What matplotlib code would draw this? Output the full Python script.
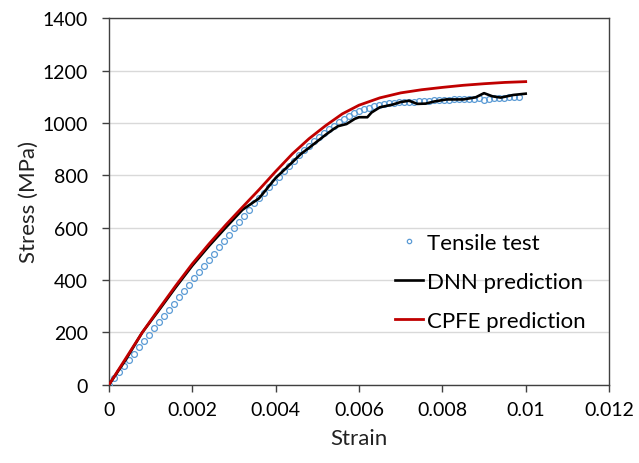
import matplotlib
matplotlib.use("Agg")
import matplotlib.pyplot as plt

plt.rcParams['font.family'] = ['Lato', 'DejaVu Sans']

# Tensile test (measured), strain step 0.00012
test_strain = [
    0.0, 0.00012, 0.00024, 0.00036, 0.00048, 0.0006, 0.00072, 0.00084, 0.00096, 0.00108,
    0.0012, 0.00132, 0.00144, 0.00156, 0.00168, 0.0018, 0.00192, 0.00204, 0.00216, 0.00228,
    0.0024, 0.00252, 0.00264, 0.00276, 0.00288, 0.003, 0.00312, 0.00324, 0.00336, 0.00348,
    0.0036, 0.00372, 0.00384, 0.00396, 0.00408, 0.0042, 0.00432, 0.00444, 0.00456, 0.00468,
    0.0048, 0.00492, 0.00504, 0.00516, 0.00528, 0.0054, 0.00552, 0.00564, 0.00576, 0.00588,
    0.006, 0.00612, 0.00624, 0.00636, 0.00648, 0.0066, 0.00672, 0.00684, 0.00696, 0.00708,
    0.0072, 0.00732, 0.00744, 0.00756, 0.00768, 0.0078, 0.00792, 0.00804, 0.00816, 0.00828,
    0.0084, 0.00852, 0.00864, 0.00876, 0.00888, 0.009, 0.00912, 0.00924, 0.00936, 0.00948,
    0.0096, 0.00972, 0.00984,
]
test_stress = [
    0, 24, 48, 72, 96, 119, 143, 167, 191, 215,
    239, 263, 287, 310, 334, 358, 382, 406, 430, 454,
    478, 501, 525, 549, 573, 597, 621, 645, 669, 693,
    713, 734, 754, 774, 795, 815, 836, 856, 876, 895,
    913, 930, 946, 961, 976, 990, 1004, 1016, 1027, 1037,
    1046, 1053, 1059, 1064, 1069, 1073, 1076, 1078, 1080, 1081,
    1082, 1082, 1083, 1084, 1085, 1086, 1087, 1088, 1089, 1090,
    1091, 1091, 1092, 1093, 1094, 1088, 1092, 1096, 1094, 1097,
    1098, 1099, 1100,
]

# DNN prediction
dnn_strain = [
    0.0, 0.0004, 0.0008, 0.0012, 0.0016, 0.002, 0.0024, 0.0028, 0.0032, 0.0034,
    0.0036, 0.004, 0.0044, 0.0046, 0.0048, 0.005, 0.0052, 0.0054, 0.0055, 0.0057,
    0.0059, 0.006, 0.0062, 0.0063, 0.0065, 0.0068, 0.007, 0.0072, 0.0074, 0.0076,
    0.0078, 0.0081, 0.0085, 0.0088, 0.009, 0.0092, 0.0094, 0.0097, 0.01,
]
dnn_stress = [
    0, 95, 200, 285, 372, 455, 530, 600, 668, 690,
    712, 790, 850, 881, 905, 930, 955, 978, 988, 996,
    1016, 1022, 1022, 1040, 1060, 1070, 1080, 1085, 1073, 1074,
    1082, 1090, 1090, 1098, 1114, 1102, 1097, 1107, 1112,
]

# CPFE prediction
cpfe_strain = [
    0.0, 0.0004, 0.0008, 0.0012, 0.0016, 0.002, 0.0024, 0.0028, 0.0032, 0.0036,
    0.004, 0.0044, 0.0048, 0.0052, 0.0056, 0.006, 0.0065, 0.007, 0.0075, 0.008,
    0.0085, 0.009, 0.0095, 0.01,
]
cpfe_stress = [
    0, 100, 200, 290, 378, 462, 538, 610, 678, 745,
    815, 882, 940, 990, 1035, 1068, 1096, 1115, 1127, 1136,
    1144, 1150, 1155, 1158,
]

x_ticks = [0, 0.002, 0.004, 0.006, 0.008, 0.01, 0.012]
x_tick_labels = ["0", "0.002", "0.004", "0.006", "0.008", "0.01", "0.012"]
y_ticks = [0, 200, 400, 600, 800, 1000, 1200, 1400]

fig = plt.figure(figsize=(6.39, 4.64), dpi=100)
ax = fig.add_axes([0.1706, 0.1688, 0.7825, 0.7896])

ax.plot(test_strain, test_stress, linestyle="none", marker="o", markersize=4.2,
        markerfacecolor="none", markeredgecolor="#5B9BD5", markeredgewidth=0.9,
        label="Tensile test", zorder=3)
ax.plot(dnn_strain, dnn_stress, color="black", linewidth=1.9,
        label="DNN prediction", zorder=4)
ax.plot(cpfe_strain, cpfe_stress, color="#C00000", linewidth=2.0,
        label="CPFE prediction", zorder=5)

ax.set_xlim(0, 0.012)
ax.set_ylim(0, 1400)
ax.set_xticks(x_ticks)
ax.set_xticklabels(x_tick_labels)
ax.set_yticks(y_ticks)

ax.yaxis.grid(True, color="#D9D9D9", linewidth=1.0)
ax.set_axisbelow(True)

for side in ["left", "right", "top", "bottom"]:
    ax.spines[side].set_color("#404040")
    ax.spines[side].set_linewidth(1.0)

ax.tick_params(axis="both", direction="out", length=5, width=1.0,
               color="#404040", labelsize=14, labelcolor="black")
ax.tick_params(axis="x", pad=7)
ax.tick_params(axis="y", pad=10)

ax.set_xlabel("Strain", fontsize=16, color="#222222", labelpad=7)
ax.set_ylabel("Stress (MPa)", fontsize=16, color="#222222", labelpad=3)

ax.legend(loc="upper left", bbox_to_anchor=(0.532, 0.469), frameon=False,
          fontsize=16, handlelength=1.25, handletextpad=0.2,
          labelspacing=0.85, markerscale=0.75)

fig.savefig("out.png", dpi=100)
